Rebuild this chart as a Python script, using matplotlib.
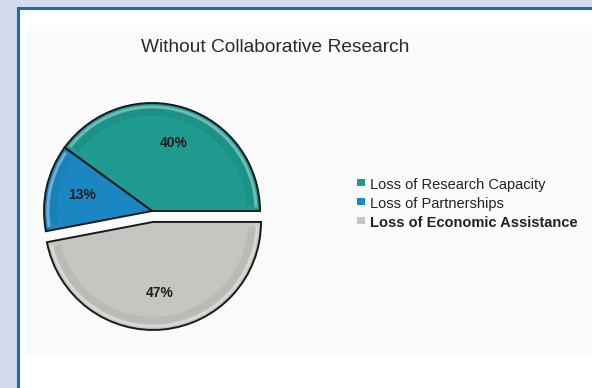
import numpy as np
import matplotlib.pyplot as plt
from matplotlib.patches import Rectangle, Arc

# slice data
labels = ["Loss of Research Capacity", "Loss of Partnerships", "Loss of Economic Assistance"]
shares = [40, 13, 47]
colors = ["#1e9a8f", "#1b87c2", "#c5c5c1"]

W, H = 592, 388
fig = plt.figure(figsize=(W / 100, H / 100), dpi=100)
fig.patch.set_facecolor("#d3dbed")
ax = fig.add_axes([0, 0, 1, 1])

# blue framed white panel
ax.add_patch(Rectangle((18, -5), W, H - 8 + 5, facecolor="white",
                       edgecolor="#1d6bb8", linewidth=2.2, zorder=0))
ax.add_patch(Rectangle((26, H - 355), W, 330, facecolor="#fbfbfb",
                       edgecolor="none", zorder=0.5))

ax.text(275, H - 48, "Without Collaborative Research", ha="center", va="center",
        fontsize=13.8, color="#2a2a2a", family="Liberation Sans")

# pie drawn in pixel units, so explode is an offset in pixels too
cx, cy, r = 152, H - 211, 108
wedges, _, pcts = ax.pie(shares, colors=colors, explode=[0, 0, 11], startangle=0,
                         counterclock=True, radius=r, center=(cx, cy),
                         autopct="%d%%", pctdistance=0.66, frame=True,
                         wedgeprops=dict(edgecolor="#1a1a1a", linewidth=1.4),
                         textprops=dict(fontsize=10, fontweight="bold", color="#1e1e1e",
                                        family="Liberation Sans"))
ax.set_xlim(0, W)
ax.set_ylim(0, H)
ax.set_aspect("auto")
ax.axis("off")

# light bevel just inside the rim of each wedge
for w in wedges:
    d = 2 * (w.r - 4)
    ax.add_patch(Arc(w.center, d, d, theta1=w.theta1 + 2, theta2=w.theta2 - 2,
                     edgecolor="white", linewidth=2.2, alpha=0.35,
                     zorder=w.get_zorder() + 0.1))
    d2 = 2 * (w.r - 9)
    ax.add_patch(Arc(w.center, d2, d2, theta1=w.theta1 + 3, theta2=w.theta2 - 3,
                     edgecolor="black", linewidth=6, alpha=0.05,
                     zorder=w.get_zorder() + 0.1))

# legend
for i, (lab, c) in enumerate(zip(labels, colors)):
    y = H - 185 - 19 * i
    ax.add_patch(Rectangle((357, y - 1), 7.5, 7.5, facecolor=c, edgecolor="none"))
    ax.text(370, y, lab, ha="left", va="center", fontsize=10.5, color="#222222",
            family="Liberation Sans", fontweight="bold" if i == 2 else "normal")

fig.savefig("out.png", dpi=100, facecolor=fig.get_facecolor())
